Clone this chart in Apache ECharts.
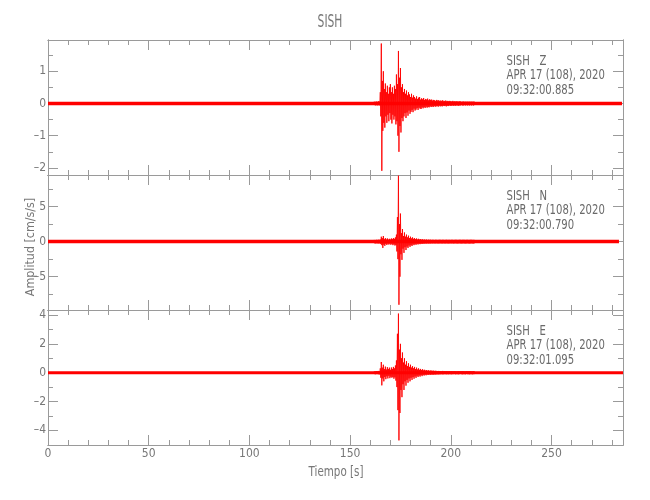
<!DOCTYPE html>
<html><head><meta charset="utf-8">
<script src="https://cdn.jsdelivr.net/npm/echarts@6/dist/echarts.min.js"></script>
<style>html,body{margin:0;padding:0;background:#fff}#c{width:650px;height:500px}</style>
</head><body><div id="c"></div>
<script>
// ---------- data ----------
const stationName = 'SISH';
const components = ['Z', 'N', 'E'];
const dateLabel = 'APR 17 (108), 2020';
const startTimes = ['09:32:00.885', '09:32:00.790', '09:32:01.095'];
const xAxisName = 'Tiempo [s]';
const yAxisName = 'Amplitud [cm/s/s]';

const xRange = [0, 285.5];
const xMajorTicks = [0, 50, 100, 150, 200, 250];
const xMinorTicks = [10, 20, 30, 40, 60, 70, 80, 90, 110, 120, 130, 140, 160, 170, 180, 190, 210, 220, 230, 240, 260, 270, 280];

const yRangeZ = [-2.22, 1.97];
const yMajorZ = [-2, -1, 0, 1];
const yMinorZ = [-1.5, -0.5, 0.5, 1.5];
const yRangeN = [-9.75, 9.5];
const yMajorN = [-5, 0, 5];
const yMinorN = [-7.5, -2.5, 2.5, 7.5];
const yRangeE = [-5.02, 4.35];
const yMajorE = [-4, -2, 0, 2, 4];
const yMinorE = [-3, -1, 1, 3];

const recordStart = [0, 0, 0];
const recordEnd = [285, 283.5, 285.5];

// event window samples (s): start and step
const eventStart = 162.0;
const sampleStep = 0.5;

const zHigh = [0.06,0.05,0.06,0.05,0.07,0.06,
 0.35,1.86,0.7,1.0,0.45,0.62,0.35,0.55,0.3,0.5,0.6,0.35,0.5,0.3,0.55,0.45,0.9,0.6,1.63,0.8,1.1,0.5,0.6,0.35,
 0.45,0.3,0.4,0.25,0.35,0.28,0.2,0.3,0.18,0.25,0.2,0.15,0.22,0.14,0.18,0.2,0.12,0.16,0.13,0.17,0.11,0.14,0.12,0.15,0.1,0.13,0.11,
 0.12,0.09,0.11,0.1,0.08,0.11,0.09,0.1,0.08,
 0.09,0.08,0.1,0.07,0.08,0.09,0.07,0.08,0.07,0.08,
 0.07,0.06,0.08,0.06,0.07,0.06,0.07,0.06,0.06,0.07,
 0.06,0.05,0.06,0.06,0.05,0.06,0.05,0.06,0.05,0.06,
 0.05,0.06,0.05,0.06];
const zLow = [-0.05,-0.06,-0.05,-0.06,-0.05,-0.06,
 -0.4,-2.09,-0.85,-0.6,-0.75,-0.4,-0.6,-0.35,-0.55,-0.3,-0.5,-0.62,-0.35,-0.5,-0.4,-0.65,-0.55,-1.0,-1.5,-0.7,-0.9,-0.45,-0.55,-0.4,
 -0.3,-0.45,-0.28,-0.38,-0.22,-0.32,-0.26,-0.2,-0.27,-0.16,-0.22,-0.19,-0.14,-0.2,-0.13,-0.16,-0.17,-0.12,-0.15,-0.11,-0.14,-0.1,-0.13,-0.11,-0.12,-0.09,-0.11,
 -0.09,-0.11,-0.08,-0.1,-0.09,-0.08,-0.1,-0.07,-0.09,
 -0.08,-0.09,-0.07,-0.08,-0.07,-0.09,-0.07,-0.08,-0.06,-0.07,
 -0.07,-0.06,-0.07,-0.06,-0.07,-0.06,-0.06,-0.07,-0.06,-0.06,
 -0.05,-0.06,-0.06,-0.05,-0.06,-0.05,-0.06,-0.05,-0.06,-0.05,
 -0.06,-0.05,-0.06,-0.05];

const nHigh = [0.25,0.22,0.26,0.24,0.27,0.25,
 0.3,0.7,0.5,0.8,0.35,0.5,0.3,0.45,0.28,0.4,0.3,0.45,0.35,0.5,0.4,0.6,1.0,3.5,9.4,2.5,4.0,1.2,1.8,0.8,
 1.3,0.7,1.0,0.6,0.85,0.5,0.7,0.45,0.6,0.4,0.5,0.35,0.45,0.3,0.4,0.3,0.35,0.28,0.33,0.26,0.3,0.25,0.3,0.24,0.28,0.25,0.27,
 0.24,0.26,0.25,0.24,0.26,0.25,0.24,0.25,0.26,
 0.25,0.24,0.26,0.25,0.24,0.25,0.26,0.24,0.25,0.25,
 0.24,0.26,0.25,0.24,0.25,0.26,0.25,0.24,0.25,0.26,
 0.25,0.24,0.26,0.25,0.25,0.24,0.26,0.25,0.24,0.25,
 0.26,0.25,0.24,0.25];
const nLow = [-0.24,-0.26,-0.23,-0.25,-0.26,-0.24,
 -0.35,-0.5,-0.9,-0.45,-0.6,-0.32,-0.48,-0.3,-0.42,-0.3,-0.45,-0.32,-0.5,-0.38,-0.55,-0.5,-1.4,-2.5,-9.0,-5.0,-1.8,-2.6,-1.0,-1.6,
 -0.8,-1.2,-0.7,-0.9,-0.55,-0.75,-0.5,-0.62,-0.4,-0.5,-0.36,-0.45,-0.32,-0.4,-0.3,-0.36,-0.28,-0.33,-0.27,-0.3,-0.25,-0.29,-0.24,-0.28,-0.25,-0.27,-0.24,
 -0.26,-0.24,-0.25,-0.26,-0.24,-0.25,-0.26,-0.25,-0.24,
 -0.25,-0.26,-0.24,-0.25,-0.26,-0.24,-0.25,-0.26,-0.25,-0.24,
 -0.25,-0.24,-0.26,-0.25,-0.24,-0.25,-0.26,-0.25,-0.24,-0.25,
 -0.26,-0.25,-0.24,-0.25,-0.26,-0.25,-0.24,-0.25,-0.26,-0.25,
 -0.24,-0.25,-0.26,-0.25];

const eHigh = [0.1,0.09,0.11,0.1,0.12,0.1,
 0.3,0.74,0.35,0.55,0.25,0.42,0.22,0.38,0.25,0.35,0.2,0.36,0.26,0.4,0.3,0.5,0.85,2.7,4.1,1.6,2.0,1.0,1.4,0.7,
 1.0,0.55,0.8,0.45,0.65,0.4,0.55,0.35,0.45,0.3,0.4,0.25,0.35,0.22,0.3,0.2,0.26,0.18,0.24,0.16,0.2,0.15,0.18,0.14,0.17,0.13,0.15,
 0.14,0.13,0.14,0.12,0.13,0.12,0.11,0.12,0.11,
 0.11,0.1,0.12,0.1,0.11,0.1,0.11,0.1,0.1,0.11,
 0.1,0.11,0.1,0.1,0.11,0.1,0.09,0.1,0.11,0.1,
 0.1,0.1,0.11,0.1,0.09,0.1,0.11,0.1,0.1,0.11,
 0.1,0.09,0.1,0.11];
const eLow = [-0.1,-0.11,-0.09,-0.1,-0.11,-0.12,
 -0.35,-0.88,-0.4,-0.6,-0.3,-0.45,-0.25,-0.4,-0.22,-0.38,-0.28,-0.35,-0.3,-0.42,-0.32,-0.55,-1.0,-2.6,-4.7,-2.8,-1.2,-1.7,-0.8,-1.2,
 -0.6,-0.9,-0.5,-0.7,-0.4,-0.6,-0.35,-0.5,-0.3,-0.42,-0.26,-0.36,-0.22,-0.3,-0.2,-0.27,-0.17,-0.24,-0.15,-0.2,-0.14,-0.18,-0.13,-0.16,-0.12,-0.15,-0.13,
 -0.13,-0.14,-0.12,-0.13,-0.12,-0.11,-0.12,-0.11,-0.11,
 -0.1,-0.11,-0.11,-0.1,-0.1,-0.11,-0.1,-0.11,-0.1,-0.1,
 -0.11,-0.1,-0.1,-0.09,-0.11,-0.1,-0.1,-0.11,-0.1,-0.09,
 -0.1,-0.11,-0.1,-0.1,-0.11,-0.09,-0.1,-0.1,-0.11,-0.1,
 -0.1,-0.11,-0.1,-0.1];

// ---------- layout / style ----------
const FONT = "'DejaVu Sans Condensed', 'DejaVu Sans', sans-serif";
const axisColor = '#9a9a9a';
const labelColor = '#777777';
const textColor = '#6a6a6a';
const traceColor = '#ff0000';
const gridLeft = 48, gridRight = 27, panelTops = [40, 175, 310], panelH = 135;
const baselineWidths = [3.5, 3.5, 3];

const panels = [
  {hi: zHigh, lo: zLow, range: yRangeZ, major: yMajorZ, minor: yMinorZ},
  {hi: nHigh, lo: nLow, range: yRangeN, major: yMajorN, minor: yMinorN},
  {hi: eHigh, lo: eLow, range: yRangeE, major: yMajorE, minor: yMinorE}
];

function traceData(hi, lo) {
  const d = [];
  for (let i = 0; i < hi.length; i++) {
    const t = eventStart + i * sampleStep;
    d.push([t, hi[i]]);
    d.push([t + sampleStep / 2, lo[i]]);
  }
  return d;
}
const fmt = v => String(v).replace('-', '\u2013');

const grids = [], xAxes = [], yAxes = [], series = [], graphics = [];
panels.forEach((p, k) => {
  grids.push({left: gridLeft, right: gridRight, top: panelTops[k], height: panelH, containLabel: false});
  const base = k * 4;
  [['bottom', xMajorTicks, 10, k === 2], ['bottom', xMinorTicks, 5, false],
   ['top', xMajorTicks, 10, false], ['top', xMinorTicks, 5, false]].forEach(([pos, ticks, len, lab]) => {
    xAxes.push({
      type: 'value', gridIndex: k, position: pos, min: xRange[0], max: xRange[1],
      axisLine: {show: true, onZero: false, lineStyle: {color: axisColor, width: 1}},
      axisTick: {show: true, inside: true, length: len, customValues: ticks, lineStyle: {color: axisColor, width: 1}},
      axisLabel: lab ? {show: true, customValues: ticks, color: labelColor, fontFamily: FONT, fontSize: 12, margin: 3} : {show: false},
      splitLine: {show: false}
    });
  });
  [['left', p.major, 10, true], ['left', p.minor, 5, false],
   ['right', p.major, 10, false], ['right', p.minor, 5, false]].forEach(([pos, ticks, len, lab]) => {
    yAxes.push({
      type: 'value', gridIndex: k, position: pos, min: p.range[0], max: p.range[1],
      axisLine: {show: true, onZero: false, lineStyle: {color: axisColor, width: 1}},
      axisTick: {show: true, inside: true, length: len, customValues: ticks, lineStyle: {color: axisColor, width: 1}},
      axisLabel: lab ? {show: true, customValues: ticks, color: labelColor, fontFamily: FONT, fontSize: 12, margin: 2, formatter: fmt} : {show: false},
      splitLine: {show: false}
    });
  });
  series.push({
    type: 'line', xAxisIndex: base, yAxisIndex: base, symbol: 'none', silent: true, animation: false,
    data: [[recordStart[k], 0], [recordEnd[k], 0]],
    lineStyle: {color: traceColor, width: baselineWidths[k]}, clip: true
  });
  series.push({
    type: 'line', xAxisIndex: base, yAxisIndex: base, symbol: 'none', silent: true, animation: false,
    data: traceData(p.hi, p.lo),
    lineStyle: {color: traceColor, width: 0.9}, clip: true
  });
  const lines = [stationName + '   ' + components[k], dateLabel, startTimes[k]];
  const offs = [21.7, 35.5, 50];
  lines.forEach((txt, j) => {
    graphics.push({type: 'text', x: 506.5, y: panelTops[k] + offs[j], scaleX: 0.8, silent: true,
      style: {text: txt, fill: textColor, fontFamily: FONT, fontSize: 14, align: 'left', verticalAlign: 'middle'}});
  });
});

graphics.push({type: 'text', x: 330, y: 23, scaleX: 0.7, silent: true,
  style: {text: stationName, fill: '#777', fontFamily: FONT, fontSize: 17, align: 'center', verticalAlign: 'middle'}});
graphics.push({type: 'text', x: 336, y: 472, scaleX: 0.82, silent: true,
  style: {text: xAxisName, fill: labelColor, fontFamily: FONT, fontSize: 14, align: 'center', verticalAlign: 'middle'}});
graphics.push({type: 'text', x: 31, y: 247, rotation: Math.PI / 2, scaleX: 0.95, silent: true,
  style: {text: yAxisName, fill: labelColor, fontFamily: FONT, fontSize: 13, align: 'center', verticalAlign: 'middle'}});

const chart = echarts.init(document.getElementById('c'), null, {renderer: 'canvas'});
chart.setOption({
  animation: false,
  backgroundColor: '#ffffff',
  grid: grids, xAxis: xAxes, yAxis: yAxes, series: series, graphic: graphics
});
</script></body></html>
